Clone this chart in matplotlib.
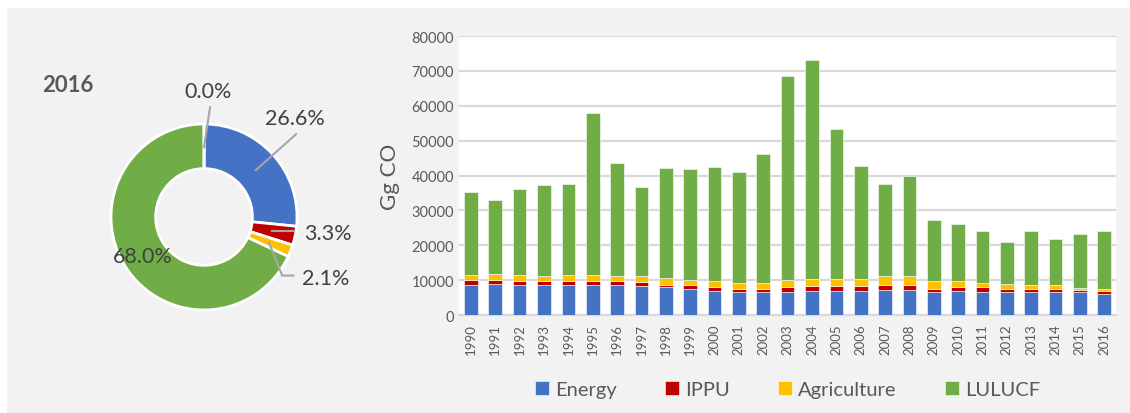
import numpy as np
import matplotlib as mpl
mpl.use('Agg')
import matplotlib.pyplot as plt
from matplotlib.patches import Rectangle

# data
years = [str(y) for y in range(1990, 2017)]
energy = [8700, 8900, 8600, 8600, 8600, 8600, 8600, 8200, 7900, 7550,
          6800, 6500, 6500, 6500, 6800, 6800, 6800, 7200, 7200, 6500,
          6800, 6500, 6500, 6500, 6500, 6500, 6100]
ippu = [1350, 1150, 1150, 1050, 1050, 1050, 1050, 1150, 700, 1050,
        1150, 1050, 1050, 1450, 1450, 1450, 1450, 1450, 1450, 1050,
        1150, 1450, 1050, 1050, 1050, 700, 700]
agriculture = [1450, 1700, 1750, 1450, 1800, 1800, 1450, 1700, 2100, 1450,
               1700, 1700, 1700, 2000, 2100, 2100, 2100, 2500, 2500, 2100,
               1750, 1350, 1350, 1050, 1050, 650, 750]
lulucf = [23900, 21100, 24700, 26100, 26100, 46500, 32500, 25700, 31500, 31750,
          32900, 31800, 36800, 58450, 62700, 43050, 32250, 26500, 28600, 17500,
          16350, 14700, 11900, 15400, 13200, 15350, 16450]

pie_labels = ['Energy', 'IPPU', 'Agriculture', 'LULUCF', 'Waste']
pie_share = [26.6, 3.3, 2.1, 68.0, 0.0]

colors = ['#4472C4', '#C00000', '#FFC000', '#70AD47', '#A5A5A5']
txt = '#595959'
plt.rcParams['font.family'] = ['Lato', 'DejaVu Sans']

fig = plt.figure(figsize=(11.3, 4.14), dpi=100)
fig.patch.set_facecolor('white')
fig.patches.append(Rectangle((7/1130, 0), 1, (414-9)/414, transform=fig.transFigure,
                             facecolor='#F2F2F2', edgecolor='none', zorder=-10))

# ---- donut ----
axp = fig.add_axes([0.0571, 0.1365, 0.2469, 0.674])
wedges, _ = axp.pie(pie_share, colors=colors, startangle=90, counterclock=False,
                    radius=1, wedgeprops=dict(width=0.48, edgecolor='white', linewidth=2))
axp.set_xlim(-1.5, 1.5)
axp.set_ylim(-1.5, 1.5)
axp.axis('off')

# label layout (offset text positions, like excel placed them)
label_pos = [(0.98, 1.06), (1.33, -0.17), (1.31, -0.66), None, (0.04, 1.35)]
cum = np.cumsum([0] + pie_share[:-1])
for i, share in enumerate(pie_share):
    ang = np.deg2rad(90 - (cum[i] + share / 2) * 3.6)
    ax_, ay_ = 0.75 * np.cos(ang), 0.75 * np.sin(ang)
    s = '%.1f%%' % share
    if label_pos[i] is None:
        axp.text(0.78 / 0.75 * ax_, 0.78 / 0.75 * ay_, s, ha='center', va='center',
                 fontsize=15.5, color='#404040')
        continue
    lx, ly = label_pos[i]
    if i == 0:
        pts = [(ax_, ay_), (lx + 0.01, ly - 0.17)]
    elif i == 1:
        pts = [(ax_, ay_), (lx - 0.36, ay_)]
    elif i == 2:
        pts = [(ax_, ay_), (lx - 0.47, ly + 0.03), (lx - 0.35, ly + 0.03)]
    else:
        pts = [(ax_, ay_), (lx + 0.025, ly - 0.17)]
    xs, ys = zip(*pts)
    axp.plot(xs, ys, color='#A6A6A6', lw=1.5)
    axp.text(lx, ly, s, ha='center', va='center', fontsize=15.5, color='#404040')

fig.text(68/1130, 1 - 86/414, '2016', ha='center', va='center', fontsize=16,
         fontweight='bold', color=txt)

# ---- stacked bars ----
ax = fig.add_axes([0.406, 0.2367, 0.582, 0.6739])
ax.set_facecolor('white')
x = np.arange(len(years))
bottom = np.zeros(len(years))
for vals, c, name in zip([energy, ippu, agriculture, lulucf], colors, pie_labels):
    ax.bar(x, vals, 0.56, bottom=bottom, color=c, label=name, zorder=3,
           edgecolor='white', linewidth=0.4)
    bottom += np.array(vals)

ax.set_ylim(0, 80000)
ax.set_xlim(-0.5, len(years) - 0.5)
ax.set_yticks(np.arange(0, 80001, 10000))
ax.yaxis.grid(True, color='#D9D9D9', lw=1.6, zorder=0)
for s in ['top', 'right', 'left']:
    ax.spines[s].set_visible(False)
ax.spines['bottom'].set_color('#D9D9D9')
ax.spines['bottom'].set_linewidth(1.6)
ax.tick_params(length=0, colors=txt, labelsize=10.5)
ax.set_xticks(x)
ax.set_xticklabels(years, rotation=90, fontsize=9.5)
ax.tick_params(axis='x', pad=6)
ax.set_ylabel('Gg CO', fontsize=16, color=txt, labelpad=8)

ax.legend(loc='upper center', bbox_to_anchor=(0.5, -0.17), ncol=4, frameon=False,
          fontsize=14.5, handlelength=0.7, handleheight=0.7, handletextpad=0.3,
          columnspacing=2.4, labelcolor=txt)

plt.savefig('out.png', dpi=100, facecolor=fig.get_facecolor())
